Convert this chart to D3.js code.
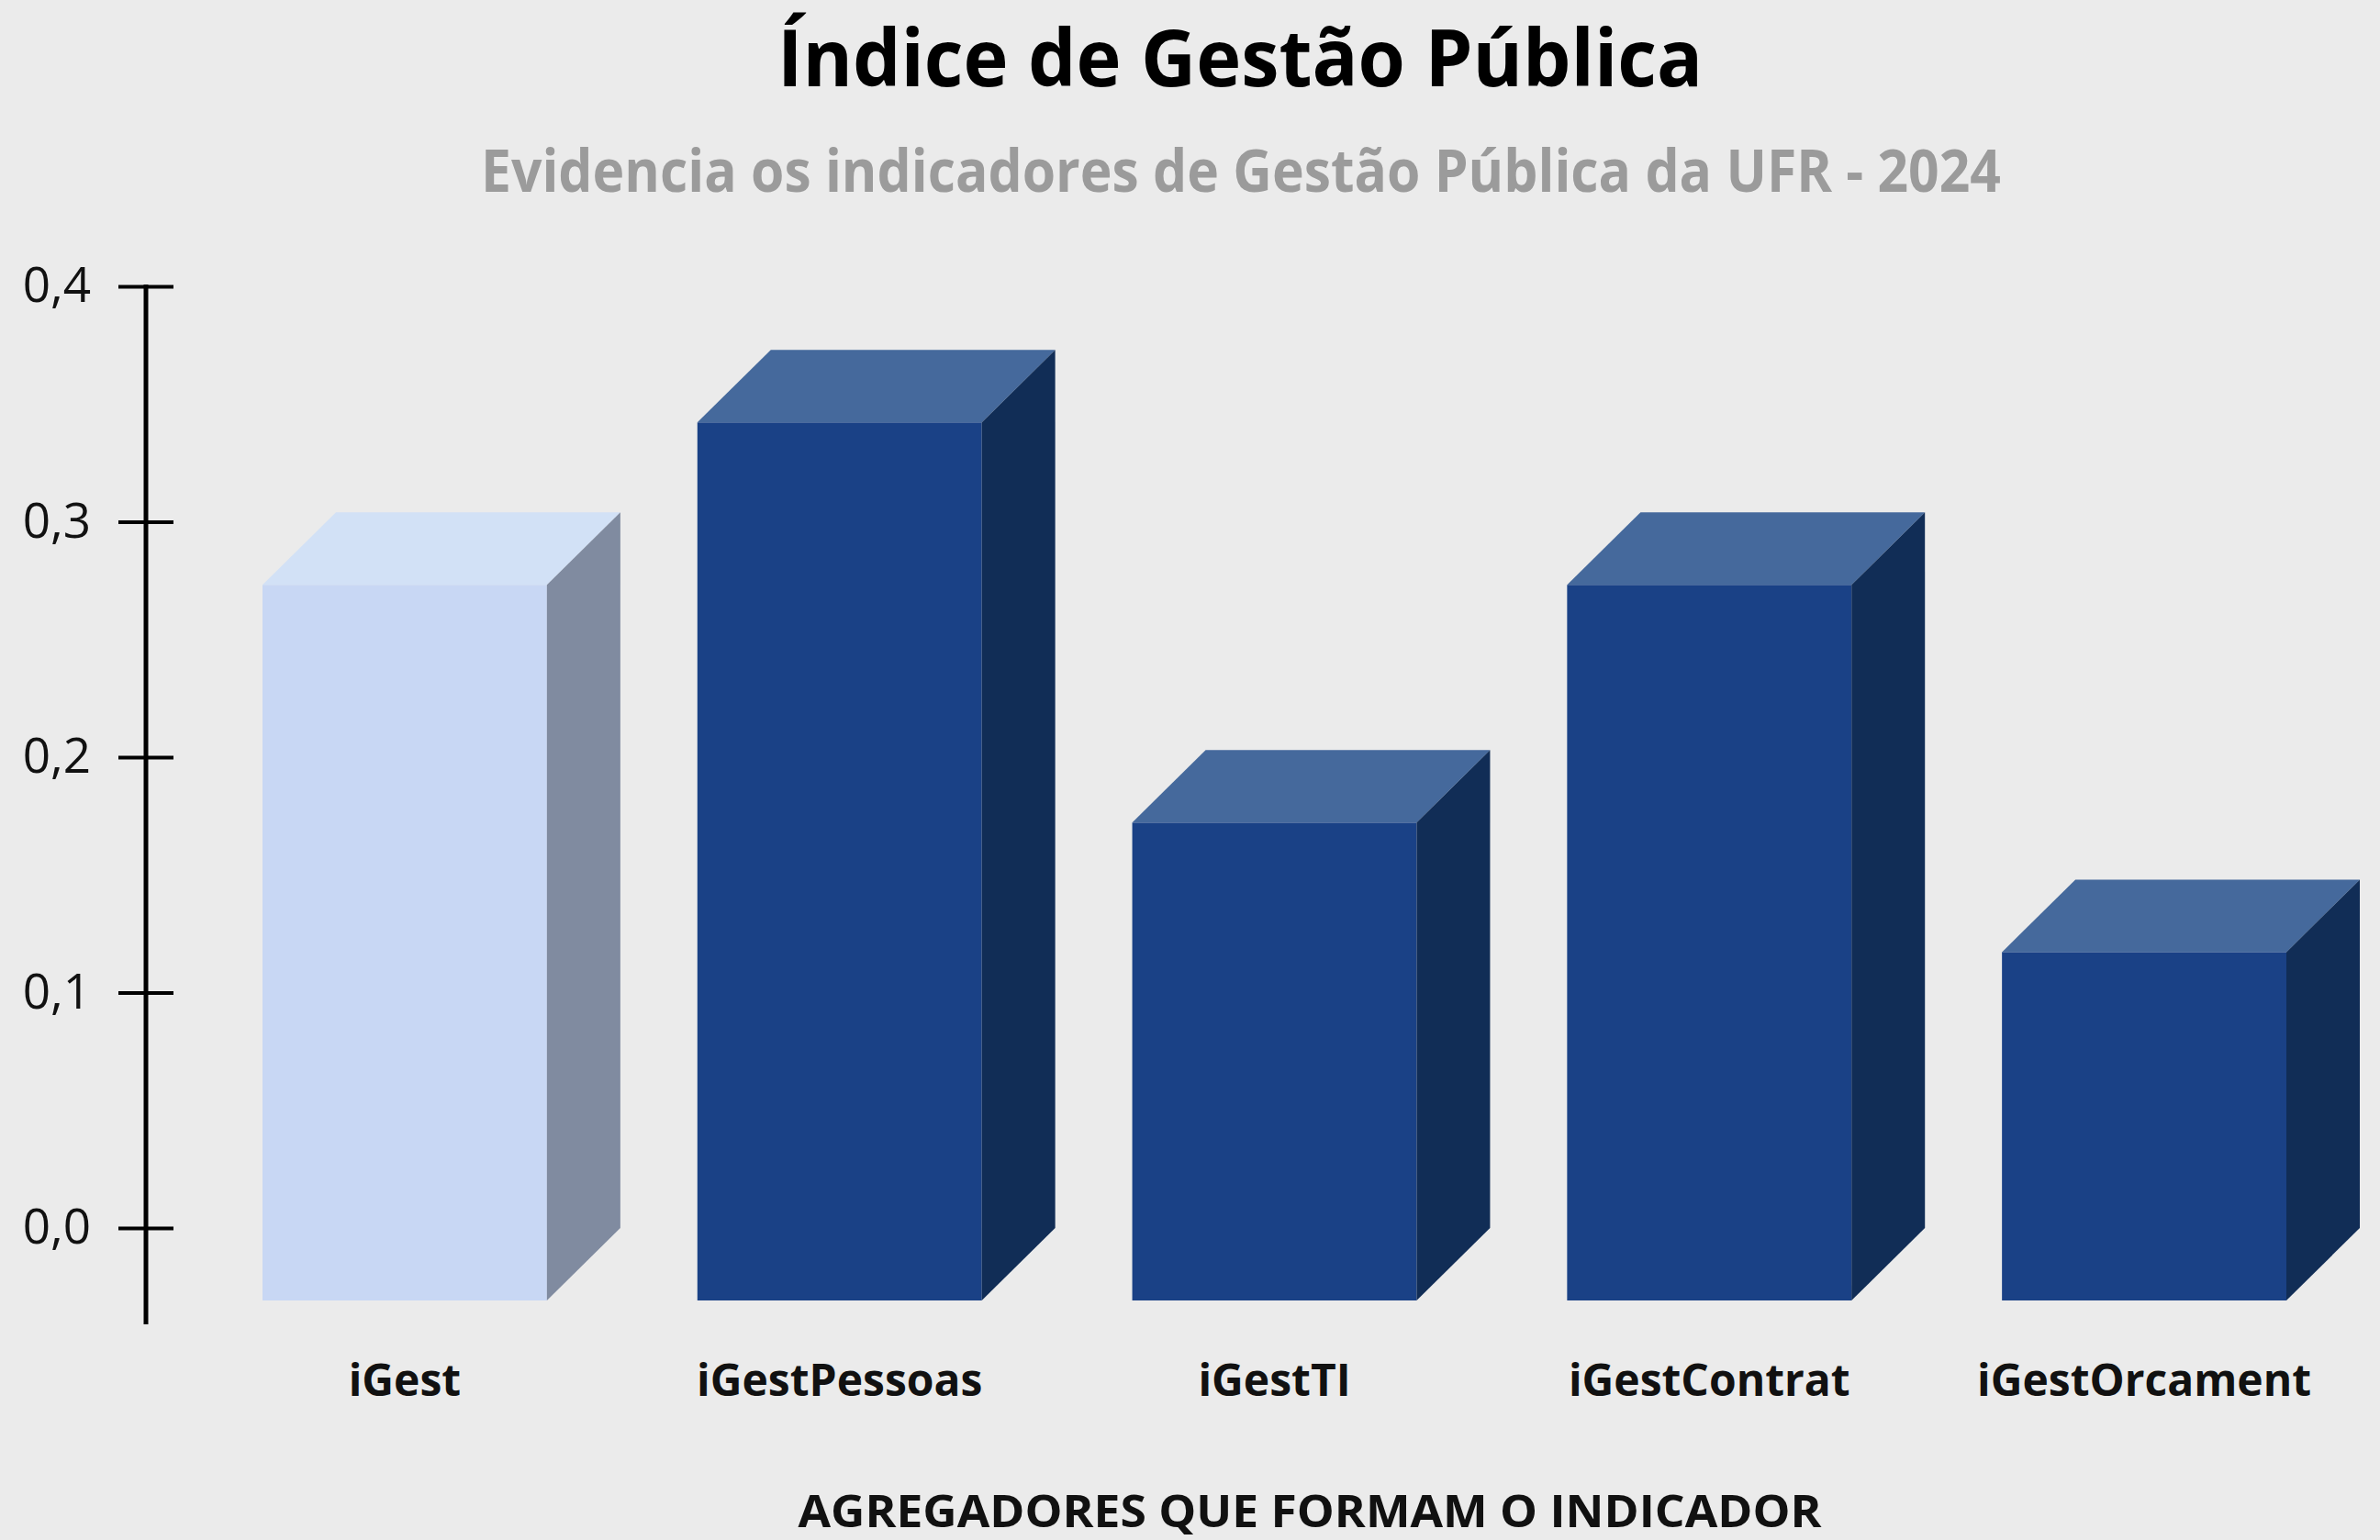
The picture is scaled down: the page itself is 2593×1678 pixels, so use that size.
<!DOCTYPE html>
<html>
<head>
<meta charset="utf-8">
<script src="https://cdn.jsdelivr.net/npm/d3@7"></script>
<style>
  body { margin:0; background:#ebebeb; }
  text { font-family:"Open Sans", "DejaVu Sans", sans-serif; }
</style>
</head>
<body>
<div class="canvas"></div>
<script>
/* Indice de Gestao Publica - 3D column chart */

var categories = ["iGest","iGestPessoas","iGestTI","iGestContrat","iGestOrcament"];
var values = [0.304, 0.373, 0.203, 0.304, 0.148];
var yTicks = [0, 0.1, 0.2, 0.3, 0.4];

var title = "Índice de Gestão Pública";
var subtitle = "Evidencia os indicadores de Gestão Pública da UFR - 2024";
var xTitle = "AGREGADORES QUE FORMAM O INDICADOR";

var W = 2593, H = 1678;
var depthX = 80, depthY = 79;

var svg = d3.select('.canvas')
    .append('svg')
    .attr('width',W)
    .attr('height',H)
    .style('display','block')
    .style('background','#ebebeb');

// y is the back plane of the bars (where the axis sits)
var y = d3.scaleLinear().domain([0,0.4]).range([1338,312]);
var x = d3.scaleBand()
    .domain(categories)
    .range([286,2491])
    .paddingInner(0.346)
    .paddingOuter(0);

var pt = d3.formatLocale({decimal:",",thousands:".",grouping:[3],currency:["R$",""]});
var fmt = pt.format(".1f");

/* titles */
svg.append('text')
    .attr('x',1351).attr('y',94)
    .attr('text-anchor','middle')
    .attr('font-size',86).attr('font-weight',700)
    .attr('fill','#000')
    .attr('textLength',1008).attr('lengthAdjust','spacingAndGlyphs')
    .text(title);

svg.append('text')
    .attr('x',1352).attr('y',209)
    .attr('text-anchor','middle')
    .attr('font-size',64).attr('font-weight',700)
    .attr('fill','#9b9b9b')
    .attr('textLength',1656).attr('lengthAdjust','spacingAndGlyphs')
    .text(subtitle);

/* axis */
var axis = svg.append('g')
    .attr('transform','translate(159,0)')
    .call(d3.axisLeft(y).tickValues(yTicks).tickSize(30).tickPadding(30).tickFormat(fmt));
axis.select('.domain').remove();
axis.selectAll('.tick line')
    .attr('x1',30)
    .attr('stroke','#000')
    .attr('stroke-width',4);
axis.selectAll('.tick text')
    .attr('font-size',53)
    .attr('font-family','"Open Sans", sans-serif')
    .attr('fill','#111');
svg.append('line')
    .attr('x1',159).attr('x2',159)
    .attr('y1',y(0.4)-2).attr('y2',1443)
    .attr('stroke','#000')
    .attr('stroke-width',5);

/* bars */
var bars = svg.append('g').selectAll('.bar')
    .data(values.map(function(v,i){ return {cat:categories[i], value:v, i:i}; }))
    .enter()
    .append('g')
    .attr('class','bar');

function faceColor(d,face){
    if(d.i==0){
        return {front:'#c8d7f4', top:'#d2e1f6', side:'#808ba0'}[face];
    }
    return {front:'#1a4186', top:'#45699c', side:'#112d56'}[face];
}

bars.append('rect')
    .attr('x',function(d){ return x(d.cat); })
    .attr('y',function(d){ return y(d.value)+depthY; })
    .attr('width',x.bandwidth())
    .attr('height',function(d){ return y(0)-y(d.value); })
    .attr('fill',function(d){ return faceColor(d,'front'); });

bars.append('path')
    .attr('d',function(d){
        var x0 = x(d.cat), x1 = x0+x.bandwidth(), yf = y(d.value)+depthY;
        return 'M'+x0+','+yf+'L'+(x0+depthX)+','+(yf-depthY)+'L'+(x1+depthX)+','+(yf-depthY)+'L'+x1+','+yf+'Z';
    })
    .attr('fill',function(d){ return faceColor(d,'top'); });

bars.append('path')
    .attr('d',function(d){
        var x1 = x(d.cat)+x.bandwidth(), yf = y(d.value)+depthY, yb = y(0)+depthY;
        return 'M'+x1+','+yf+'L'+(x1+depthX)+','+(yf-depthY)+'L'+(x1+depthX)+','+(yb-depthY)+'L'+x1+','+yb+'Z';
    })
    .attr('fill',function(d){ return faceColor(d,'side'); });

/* category labels */
svg.append('g').selectAll('.lbl')
    .data(categories)
    .enter()
    .append('text')
    .attr('class','lbl')
    .attr('x',function(d){ return x(d)+x.bandwidth()/2; })
    .attr('y',1521)
    .attr('text-anchor','middle')
    .attr('font-size',48).attr('font-weight',700)
    .attr('fill','#111')
    .text(function(d){ return d; });

svg.append('text')
    .attr('x',1427).attr('y',1664)
    .attr('text-anchor','middle')
    .attr('font-size',48).attr('font-weight',700)
    .attr('fill','#111')
    .attr('textLength',1115).attr('lengthAdjust','spacingAndGlyphs')
    .text(xTitle);
</script>
</body>
</html>
